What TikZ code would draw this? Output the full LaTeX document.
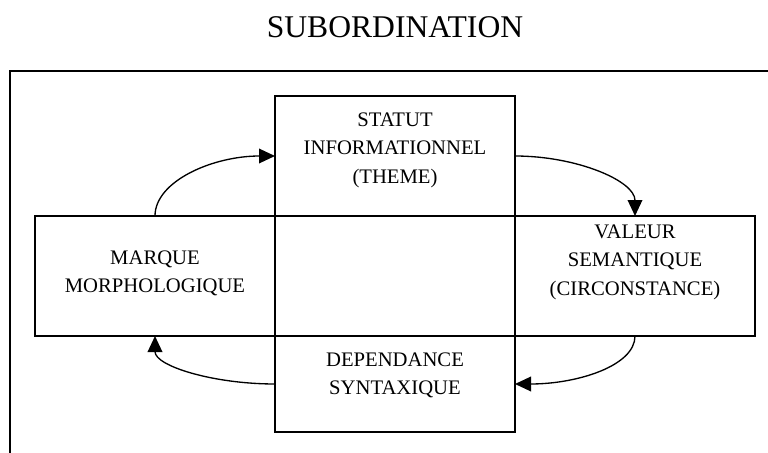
\documentclass[tikz,border=0pt]{standalone}
\usepackage{fontspec}
\setmainfont{Liberation Serif}
\usetikzlibrary{arrows.meta}
\begin{document}
\begin{tikzpicture}[x=0.75pt,y=-0.75pt,
  box/.style={draw,line width=1pt,minimum width=180pt,inner sep=0pt,outer sep=0pt},
  txt/.style={align=center,inner sep=0pt,font=\fontsize{15.5}{21.4}\selectfont},
  arr/.style={line width=1pt,-{Triangle[length=12pt,width=11pt]}}]
\useasboundingbox (0,0) rectangle (768,453);
\node[font=\fontsize{23.7}{28}\selectfont,anchor=base] (title) at (395,38) {SUBORDINATION};
\coordinate (frTR) at (768,71);
\coordinate (frTL) at (10,71);
\coordinate (frBL) at (10,453);
\draw[line width=1.5pt] (frTR) -- (frTL) -- (frBL);
\node[box,minimum height=90pt] (tbox) at (395,156) {};
\node[box,minimum height=90pt] (lbox) at (155,276) {};
\node[box,minimum height=90pt] (rbox) at (635,276) {};
\node[box,minimum height=72pt] (bbox) at (395,384) {};
\node[txt] (ttext) at (395,150) {STATUT\\INFORMATIONNEL\\(THEME)};
\node[txt] (ltext) at (155,273.5) {MARQUE\\MORPHOLOGIQUE};
\node[txt] (rtext) at (635,262) {VALEUR\\SEMANTIQUE\\(CIRCONSTANCE)};
\node[txt] (btext) at (395,375.5) {DEPENDANCE\\SYNTAXIQUE};
\draw[arr] (lbox.north) .. controls +(0,-35) and +(-62,0) .. (tbox.west);
\draw[arr] (tbox.east) .. controls +(62,0) and +(0,-35) .. (rbox.north);
\draw[arr] (rbox.south) .. controls +(0,30) and +(62,0) .. (bbox.east);
\draw[arr] (bbox.west) .. controls +(-62,0) and +(0,30) .. (lbox.south);
\end{tikzpicture}
\end{document}
